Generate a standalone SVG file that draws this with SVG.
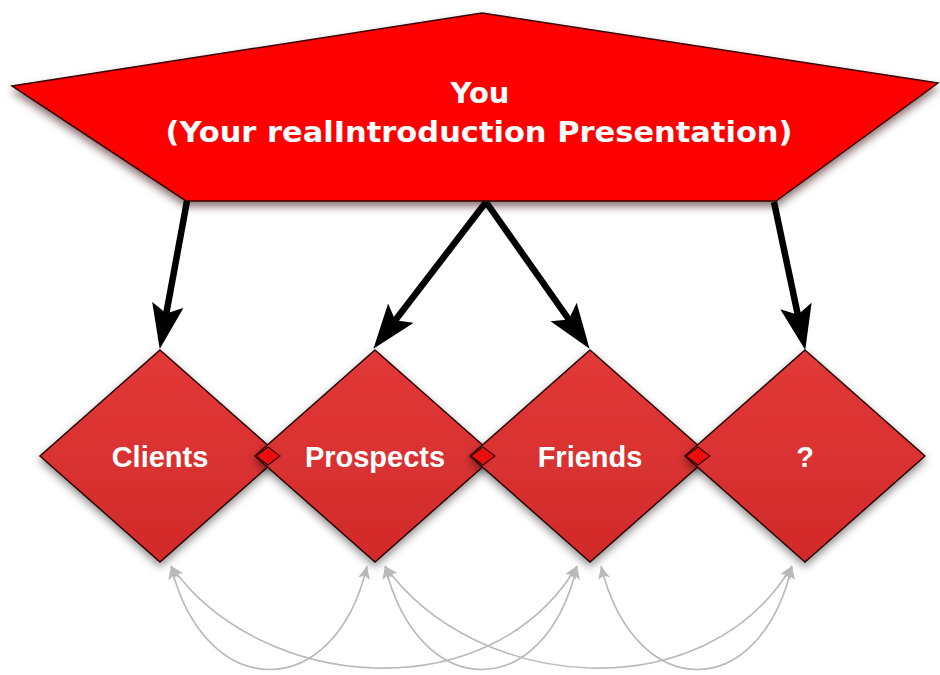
<svg xmlns="http://www.w3.org/2000/svg" width="940" height="675" viewBox="0 0 940 675">
<defs>
<style>
.title{font-family:"DejaVu Sans","Verdana",sans-serif;font-weight:bold;font-size:29px;fill:#ffffff;text-anchor:middle}
.lbl{font-family:"Liberation Sans","Arial",sans-serif;font-weight:bold;font-size:29px;fill:#ffffff;text-anchor:middle}
.dia{fill:url(#dg);stroke:#2a0505;stroke-width:1.5;filter:url(#sh)}
.junc{fill:#ea0f0c;stroke:#3a0000;stroke-width:1.2}
.big{fill:none;stroke:#000;stroke-width:6.5;marker-end:url(#ah)}
.thin{fill:none;stroke:#b9b9b9;stroke-width:1.6;marker-start:url(#gh);marker-end:url(#gh)}
</style>
<linearGradient id="dg" x1="0" y1="0" x2="0" y2="1">
<stop offset="0" stop-color="#e23838"/>
<stop offset="1" stop-color="#d22a2a"/>
</linearGradient>
<filter id="sh" x="-20%" y="-20%" width="140%" height="150%">
<feDropShadow dx="0" dy="4" stdDeviation="4" flood-color="#000" flood-opacity="0.45"/>
</filter>
<filter id="psh" x="-10%" y="-20%" width="120%" height="150%">
<feDropShadow dx="0" dy="5" stdDeviation="4" flood-color="#300" flood-opacity="0.55"/>
</filter>
<marker id="ah" markerUnits="userSpaceOnUse" markerWidth="48" markerHeight="34" refX="22" refY="16" orient="auto">
<path d="M0,0 L45,16 L0,32 L9,16 z" fill="#000"/>
</marker>
<marker id="gh" markerUnits="userSpaceOnUse" markerWidth="16" markerHeight="14" refX="13" refY="6" orient="auto-start-reverse">
<path d="M0,0 L13,6 L0,12 L3,6 z" fill="#b9b9b9"/>
</marker>
</defs>
<rect width="940" height="675" fill="#ffffff"/>

<g id="you">
<polygon points="482,13 12,86 186,201 776,201 938,83" fill="#ff0000" stroke="#3a0000" stroke-width="1.5" filter="url(#psh)"/>
<text class="title" x="480" y="103">You</text>
<text class="title" x="479" y="142" textLength="627" lengthAdjust="spacingAndGlyphs">(Your realIntroduction Presentation)</text>
</g>

<g id="connectors">
<path class="big" d="M187,201 L163.9,326.4"/>
<path class="big" d="M486,202 L387.4,330.6"/>
<path class="big" d="M486,202 L576.3,330.0"/>
<path class="big" d="M774,202 L800.5,327.5"/>
<path class="thin" d="M171,566 C205,704 335,704 367,566"/>
<path class="thin" d="M171,566 C260,692 490,712 577,566"/>
<path class="thin" d="M385,566 C419,704 545,704 577,566"/>
<path class="thin" d="M385,566 C475,692 705,712 792,566"/>
<path class="thin" d="M601,566 C635,704 760,704 792,566"/>
</g>

<g id="clients">
<polygon class="dia" points="160,350 280,456 160,562 40,456"/>
<text class="lbl" x="160" y="467">Clients</text>
</g>
<g id="prospects">
<polygon class="dia" points="375,350 495,456 375,562 255,456"/>
<text class="lbl" x="375" y="467">Prospects</text>
</g>
<g id="friends">
<polygon class="dia" points="590,350 710,456 590,562 470,456"/>
<text class="lbl" x="590" y="467">Friends</text>
</g>
<g id="unknown">
<polygon class="dia" points="805,350 925,456 805,562 685,456"/>
<text class="lbl" x="805" y="467">?</text>
</g>
<g id="junctions">
<polygon class="junc" points="256,456 268,447 280,456 268,465"/>
<polygon class="junc" points="471,456 483,447 495,456 483,465"/>
<polygon class="junc" points="686,456 698,447 710,456 698,465"/>
</g>
</svg>
